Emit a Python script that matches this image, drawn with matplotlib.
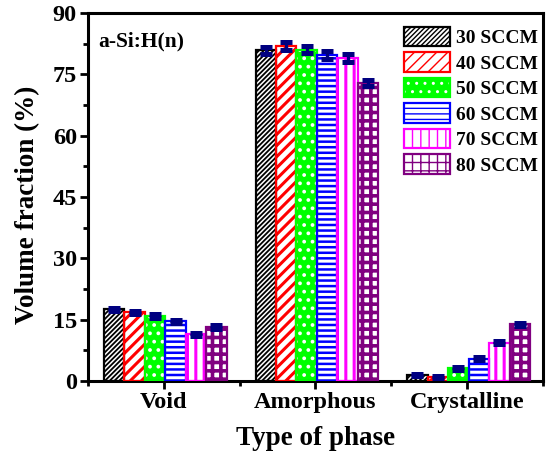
import matplotlib
matplotlib.use("Agg")
import matplotlib.pyplot as plt
import numpy as np
from matplotlib.ticker import MultipleLocator
from matplotlib.patches import Patch
from matplotlib.legend_handler import HandlerTuple

plt.rcParams['font.family'] = ['Liberation Serif', 'DejaVu Serif']
plt.rcParams['font.weight'] = 'bold'

phases = ["Void", "Amorphous", "Crystalline"]
flows = ["30 SCCM", "40 SCCM", "50 SCCM", "60 SCCM", "70 SCCM", "80 SCCM"]

void = [17.5, 16.8, 15.9, 14.6, 11.4, 13.2]
amorphous = [80.9, 82.0, 81.0, 79.7, 79.0, 72.9]
crystalline = [1.5, 1.0, 3.1, 5.5, 9.4, 13.9]

void_err = [0.4, 0.4, 0.4, 0.4, 0.4, 0.4]
amorphous_err = [0.9, 1.0, 0.9, 0.9, 0.9, 0.8]
crystalline_err = [0.3, 0.3, 0.3, 0.3, 0.4, 0.4]

values = np.array([void, amorphous, crystalline]).T
errors = np.array([void_err, amorphous_err, crystalline_err]).T

# (face colour, hatch colour, edge colour, hatch, hatch linewidth)
styles = [
    ("white", "black", "black", "///////", 1.3),
    ("white", "red", "red", "///", 2.2),
    ("#00ff00", "white", "#00ff00", "..", 1.5),
    ("white", "blue", "blue", "---", 1.8),
    ("white", "magenta", "magenta", "||", 2.2),
    ("white", "purple", "purple", "++", 2.6),
]

fig = plt.figure(figsize=(5.46, 4.54), dpi=100)
ax = fig.add_axes([0.161, 0.1608, 0.8335, 0.8106])

x = np.arange(len(phases))
width = 0.135
handles = []
for i, (label, vals, errs, st) in enumerate(zip(flows, values, errors, styles)):
    face, hcol, ecol, hatch, hlw = st
    pos = x + (i - 2.5) * width + 0.01
    with plt.rc_context({'hatch.linewidth': hlw}):
        bars = ax.bar(pos, vals, width, color=face, edgecolor=hcol,
                      hatch=hatch, linewidth=0, zorder=2)
        for b in bars:
            try:
                b.set_hatch_linewidth(hlw)
            except AttributeError:
                pass
        ax.bar(pos, vals, width, fill=False, edgecolor=ecol,
               linewidth=1.6, zorder=3)
        h = Patch(facecolor=face, edgecolor=hcol, hatch=hatch, linewidth=0)
        try:
            h.set_hatch_linewidth(hlw)
        except AttributeError:
            pass
    handles.append((h, Patch(fill=False, edgecolor=ecol, linewidth=1.6)))
    ax.errorbar(pos, vals, yerr=errs, fmt='none', ecolor='#000080',
                elinewidth=2.4, capsize=4.5, capthick=3.6, zorder=4)

ax.set_xlim(-0.5, 2.5)
ax.set_ylim(0, 90)
ax.set_xticks(x)
ax.set_xticklabels(phases, fontsize=17.5, fontweight='bold')
ax.xaxis.set_minor_locator(MultipleLocator(0.5))
ax.yaxis.set_major_locator(MultipleLocator(15))
ax.yaxis.set_minor_locator(MultipleLocator(7.5))
ax.tick_params(axis='both', which='major', length=6, width=2, direction='out',
               labelsize=17.5, pad=2)
ax.tick_params(axis='both', which='minor', length=3.5, width=2, direction='out')
for lab in ax.get_yticklabels():
    lab.set_fontweight('bold')
for sp in ax.spines.values():
    sp.set_linewidth(2.2)

ax.set_xlabel("Type of phase", fontsize=19.5, fontweight='bold')
ax.set_ylabel("Volume fraction (%)", fontsize=19.5, fontweight='bold')
ax.xaxis.set_label_coords(0.5, -0.122)
ax.yaxis.set_label_coords(-0.104, 0.48)

ax.text(0.022, 0.95, "a-Si:H(n)", transform=ax.transAxes, fontsize=15.5,
        fontweight='bold', va='top', ha='left')

ax.legend(handles, flows, loc='upper right', bbox_to_anchor=(0.99, 0.962),
          frameon=False, prop={'weight': 'bold', 'size': 14},
          handlelength=2.35, handleheight=1.15, handletextpad=0.35,
          labelspacing=0.27, borderaxespad=0.0, borderpad=0.0,
          handler_map={tuple: HandlerTuple(ndivide=1, pad=0)})

fig.savefig("out.png", dpi=100)
